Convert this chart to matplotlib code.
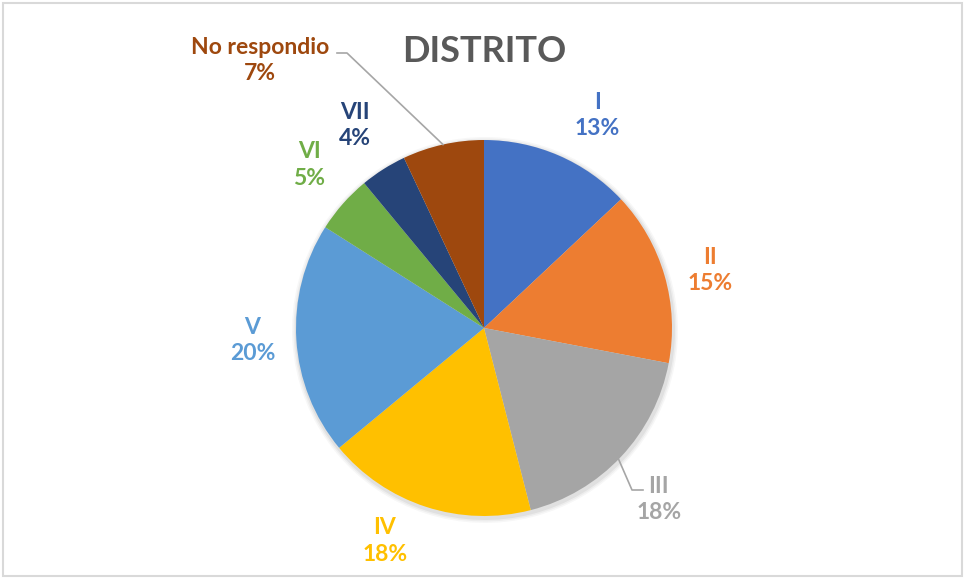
import numpy as np
import matplotlib
matplotlib.use("Agg")
import matplotlib.pyplot as plt
from matplotlib.patches import Rectangle

categories = ["I", "II", "III", "IV", "V", "VI", "VII", "No respondio"]
values = [13, 15, 18, 18, 20, 5, 4, 7]
colors = ["#4472C4", "#ED7D31", "#A5A5A5", "#FFC000", "#5B9BD5", "#70AD47", "#264478", "#9E480E"]
title = "DISTRITO"

# label layout: (angle clockwise from top in degrees, distance from center in px)
label_layout = [(28, 241), (75.6, 233), (134.5, 245), (205, 235), (267, 232), (313, 239), (327.6, 240), (320, 349)]

W, H = 964, 578
fig = plt.figure(figsize=(W / 100, H / 100), dpi=100)
ax = fig.add_axes([0, 0, 1, 1])
ax.set_xlim(0, W)
ax.set_ylim(0, H)
ax.axis("off")

plt.rcParams["font.family"] = ["Lato", "DejaVu Sans"]

cx, cy, R = 484, H - 328, 188

# faint shadow
for i, a in enumerate([0.05, 0.04, 0.03]):
    ax.pie(values, colors=["#000000"] * len(values), startangle=90, counterclock=False,
           center=(cx + 1, cy - 2), radius=R + 2 + i * 1.5,
           wedgeprops=dict(alpha=a, linewidth=0))

wedges, _ = ax.pie(values, colors=colors, startangle=90, counterclock=False,
                   center=(cx, cy), radius=R, wedgeprops=dict(linewidth=0))
ax.set_xlim(0, W)
ax.set_ylim(0, H)
ax.set_aspect("auto")

# border
ax.add_patch(Rectangle((2.5, 2.5), W - 5, H - 5, fill=False, edgecolor="#D9D9D9", linewidth=1.5))

ax.text(cx, H - 52, title, ha="center", va="center", fontsize=26, fontweight="bold", color="#595959")

total = sum(values)
for cat, v, col, (ang, dist) in zip(categories, values, colors, label_layout):
    t = np.radians(ang)
    lx = cx + dist * np.sin(t)
    ly = cy + dist * np.cos(t)
    ax.text(lx, ly, f"{cat}\n{round(100 * v / total)}%", ha="center", va="center",
            fontsize=16.5, fontweight="bold", color=col, linespacing=1.3)

# leader lines
cum = np.cumsum([0] + values[:-1])
def edge_pt(frac):
    t = 2 * np.pi * frac
    return cx + R * np.sin(t), cy + R * np.cos(t)

# No respondio
ex, ey = edge_pt((cum[7] + values[7] / 2) / total)
ax.plot([337, 347, ex], [H - 53, H - 53, ey], color="#A6A6A6", linewidth=1.2)
# III
ex, ey = edge_pt(0.373)
ax.plot([ex, 632, 643], [ey, H - 490, H - 490], color="#A6A6A6", linewidth=1.2)

fig.savefig("out.png", dpi=100, facecolor="white")
